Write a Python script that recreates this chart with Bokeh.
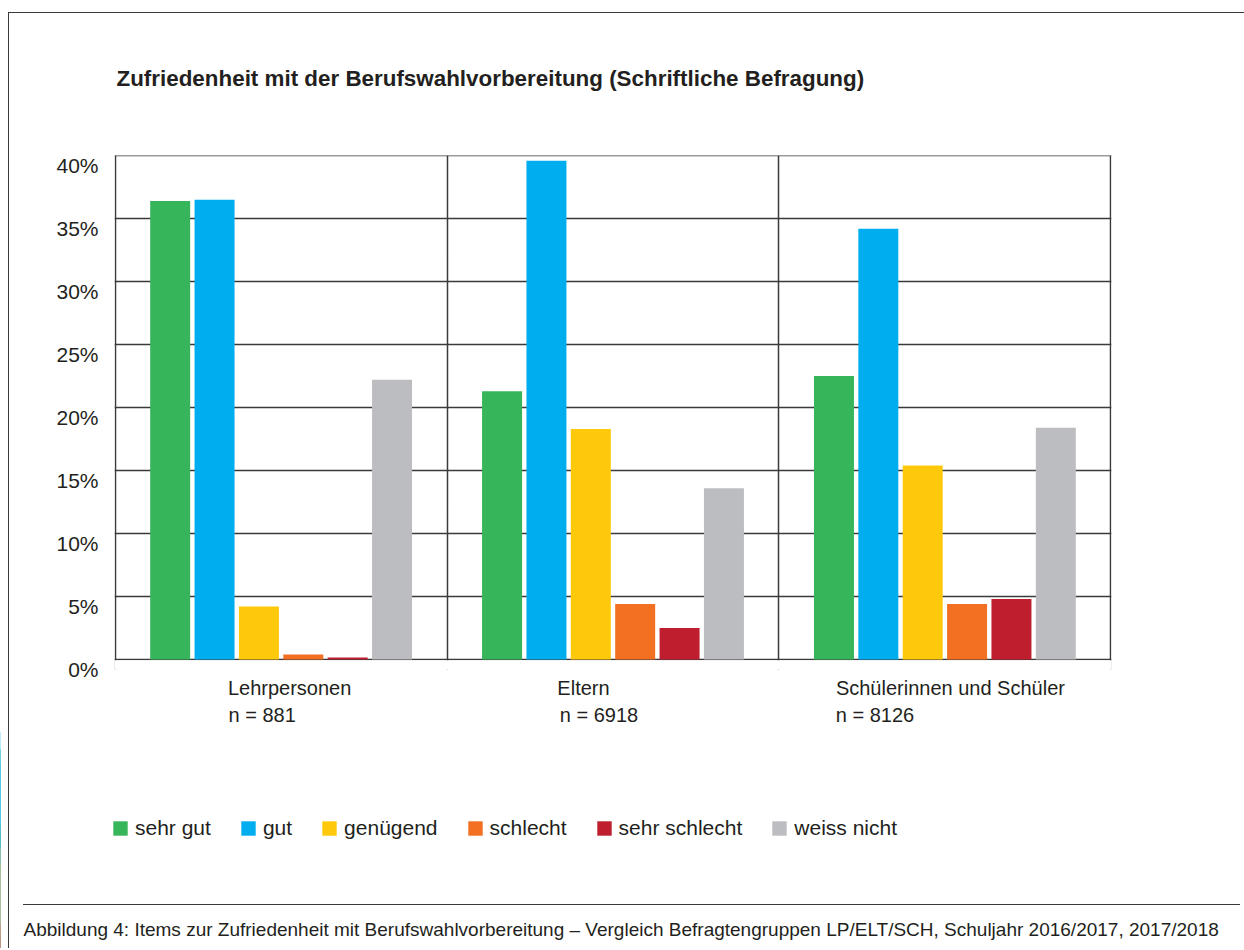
from bokeh.plotting import figure
from bokeh.layouts import column
from bokeh.models import (Range1d, FixedTicker, PrintfTickFormatter, LinearAxis,
                          ColumnDataSource, Legend, LegendItem, Title, Label,
                          BoxAnnotation)
from bokeh.transform import dodge
from bokeh.embed import file_html
from bokeh.resources import INLINE

# ---------------- data ----------------
groups = ["Lehrpersonen", "Eltern", "Schülerinnen und Schüler"]
n_labels = ["n = 881", "n = 6918", "n = 8126"]
series = ["sehr gut", "gut", "genügend", "schlecht", "sehr schlecht", "weiss nicht"]
sehr_gut = [36.4, 21.3, 22.5]
gut = [36.5, 39.6, 34.2]
genuegend = [4.2, 18.3, 15.4]
schlecht = [0.4, 4.4, 4.4]
sehr_schlecht = [0.15, 2.5, 4.8]
weiss_nicht = [22.2, 13.6, 18.4]
y_ticks = [0, 5, 10, 15, 20, 25, 30, 35, 40]

title_text = "Zufriedenheit mit der Berufswahlvorbereitung (Schriftliche Befragung)"
caption_text = ("Abbildung 4: Items zur Zufriedenheit mit Berufswahlvorbereitung \u2013 "
                "Vergleich Befragtengruppen LP/ELT/SCH, Schuljahr 2016/2017, 2017/2018")

# ---------------- style ----------------
colors = ["#37b55b", "#00aeef", "#ffc90b", "#f36f21", "#be1e2d", "#bcbdc0"]
FONT = "Liberation Sans"
TXT = "#231f20"
LINE = "#3a3a3a"
bar_w = 0.1205
step = 0.1337
GROUP_PX = 332.0
name_dx = [8.5, -29.5, 5.5]     # label shifts in px (reference layout)
n_dx = [-19, -14, -70]
S = 0.8                          # tick labels sit ~10px under their gridline
E = 0.01
Y_MAX = 40

values = [sehr_gut, gut, genuegend, schlecht, sehr_schlecht, weiss_nicht]
data = {"x": [i + 0.5 for i in range(len(groups))]}
keys = ["s%d" % k for k in range(len(series))]
for k, v in zip(keys, values):
    data[k] = v
src = ColumnDataSource(data)

ng = len(groups)
p = figure(frame_width=997, frame_height=514, output_backend="svg", toolbar_location=None,
           x_range=Range1d(-0.002, ng + 0.002), y_range=Range1d(-S, Y_MAX + E),
           x_axis_location=None, y_axis_location=None,
           min_border_left=114, min_border_right=133, min_border_top=155,
           min_border_bottom=60, tools="")
p.frame_align = False
p.background_fill_color = "white"
p.border_fill_color = None
p.outline_line_color = None

for i, k in enumerate(keys):
    p.vbar(x=dodge("x", (i - 2.5) * step, range=p.x_range), top=k, width=bar_w,
           source=src, fill_color=colors[i], line_color=None)

# grid = chart box + horizontal lines + group separators
p.ygrid.ticker = FixedTicker(ticks=y_ticks)
p.ygrid.grid_line_color = LINE
p.ygrid.grid_line_width = 1.5
p.xgrid.ticker = FixedTicker(ticks=list(range(0, ng + 1)))
p.xgrid.grid_line_color = LINE
p.xgrid.grid_line_width = 1.5
# blank strip under the baseline (room for the shifted tick labels)
p.add_layout(BoxAnnotation(top=-0.065, fill_color="white", fill_alpha=1,
                           line_color=None, level="underlay"))

# y axis
p.extra_y_ranges = {"lab": Range1d(0, Y_MAX + E + S)}
ya = LinearAxis(y_range_name="lab")
ya.ticker = FixedTicker(ticks=y_ticks)
ya.formatter = PrintfTickFormatter(format="%d%%")
ya.axis_line_color = None
ya.major_tick_line_color = None
ya.minor_tick_line_color = None
ya.major_tick_out = 0
ya.major_tick_in = 0
ya.major_label_standoff = 16
ya.major_label_text_font = FONT
ya.major_label_text_font_size = "21px"
ya.major_label_text_color = TXT
p.add_layout(ya, "left")

# x axes: group names and sample sizes
def cat_axis(labels, dx, standoff):
    ticks = [round(i + 0.5 + d / GROUP_PX, 4) for i, d in enumerate(dx)]
    ax = LinearAxis(ticker=FixedTicker(ticks=ticks),
                    major_label_overrides={t: s for t, s in zip(ticks, labels)})
    ax.axis_line_color = None
    ax.major_tick_line_color = None
    ax.minor_tick_line_color = None
    ax.major_tick_out = 0
    ax.major_tick_in = 0
    ax.major_label_standoff = standoff
    ax.major_label_text_font = FONT
    ax.major_label_text_font_size = "20px"
    ax.major_label_text_color = TXT
    return ax

p.add_layout(cat_axis(groups, name_dx, 7), "below")
p.add_layout(cat_axis(n_labels, n_dx, 2), "below")

# title
p.title = Title(text=title_text, align="left", offset=2, standoff=126,
                vertical_align="top", text_font=FONT, text_font_size="22.4px",
                text_font_style="bold", text_color=TXT)

# ---------------- legend + caption strip ----------------
# zero-width bars far outside this strip's x range: they only provide legend swatches
q = figure(width=1244, height=219, output_backend="svg", toolbar_location=None,
           x_range=Range1d(1000, 1000 + ng), y_range=Range1d(0, Y_MAX),
           x_axis_location=None, y_axis_location=None, min_border=0, tools="")
q.frame_align = False
q.background_fill_color = None
q.border_fill_color = None
q.outline_line_color = None
q.xgrid.visible = False
q.ygrid.visible = False
leg_renderers = []
for i, k in enumerate(keys):
    leg_renderers.append(q.vbar(x="x", top=k, width=0, source=src,
                                fill_color=colors[i], line_color=None))

legend = Legend(items=[LegendItem(label=s, renderers=[r]) for s, r in zip(series, leg_renderers)],
                orientation="horizontal", location=(111, 108), margin=0, padding=0,
                glyph_width=18, glyph_height=18, label_standoff=6, spacing=28,
                border_line_color=None, background_fill_alpha=0,
                label_text_font=FONT, label_text_font_size="21px", label_text_color=TXT)
q.add_layout(legend, "center")

q.add_layout(Label(x=23, y=19, x_units="screen", y_units="screen", text=caption_text,
                   text_font=FONT, text_font_size="19px", text_color=TXT,
                   text_align="left", text_baseline="middle"))

layout = column(p, q, spacing=0, styles={
    "background-color": "white",
    "background-image": ("linear-gradient(#3a3a3a,#3a3a3a),"
                         "linear-gradient(#3a3a3a,#3a3a3a),"
                         "linear-gradient(#3a3a3a,#3a3a3a)"),
    "background-size": "1236px 1px, 1px 936px, 1217px 1px",
    "background-position": "8px 12px, 8px 12px, 23px 904px",
    "background-repeat": "no-repeat",
})

open("out.html", "w").write(file_html(layout, INLINE))
